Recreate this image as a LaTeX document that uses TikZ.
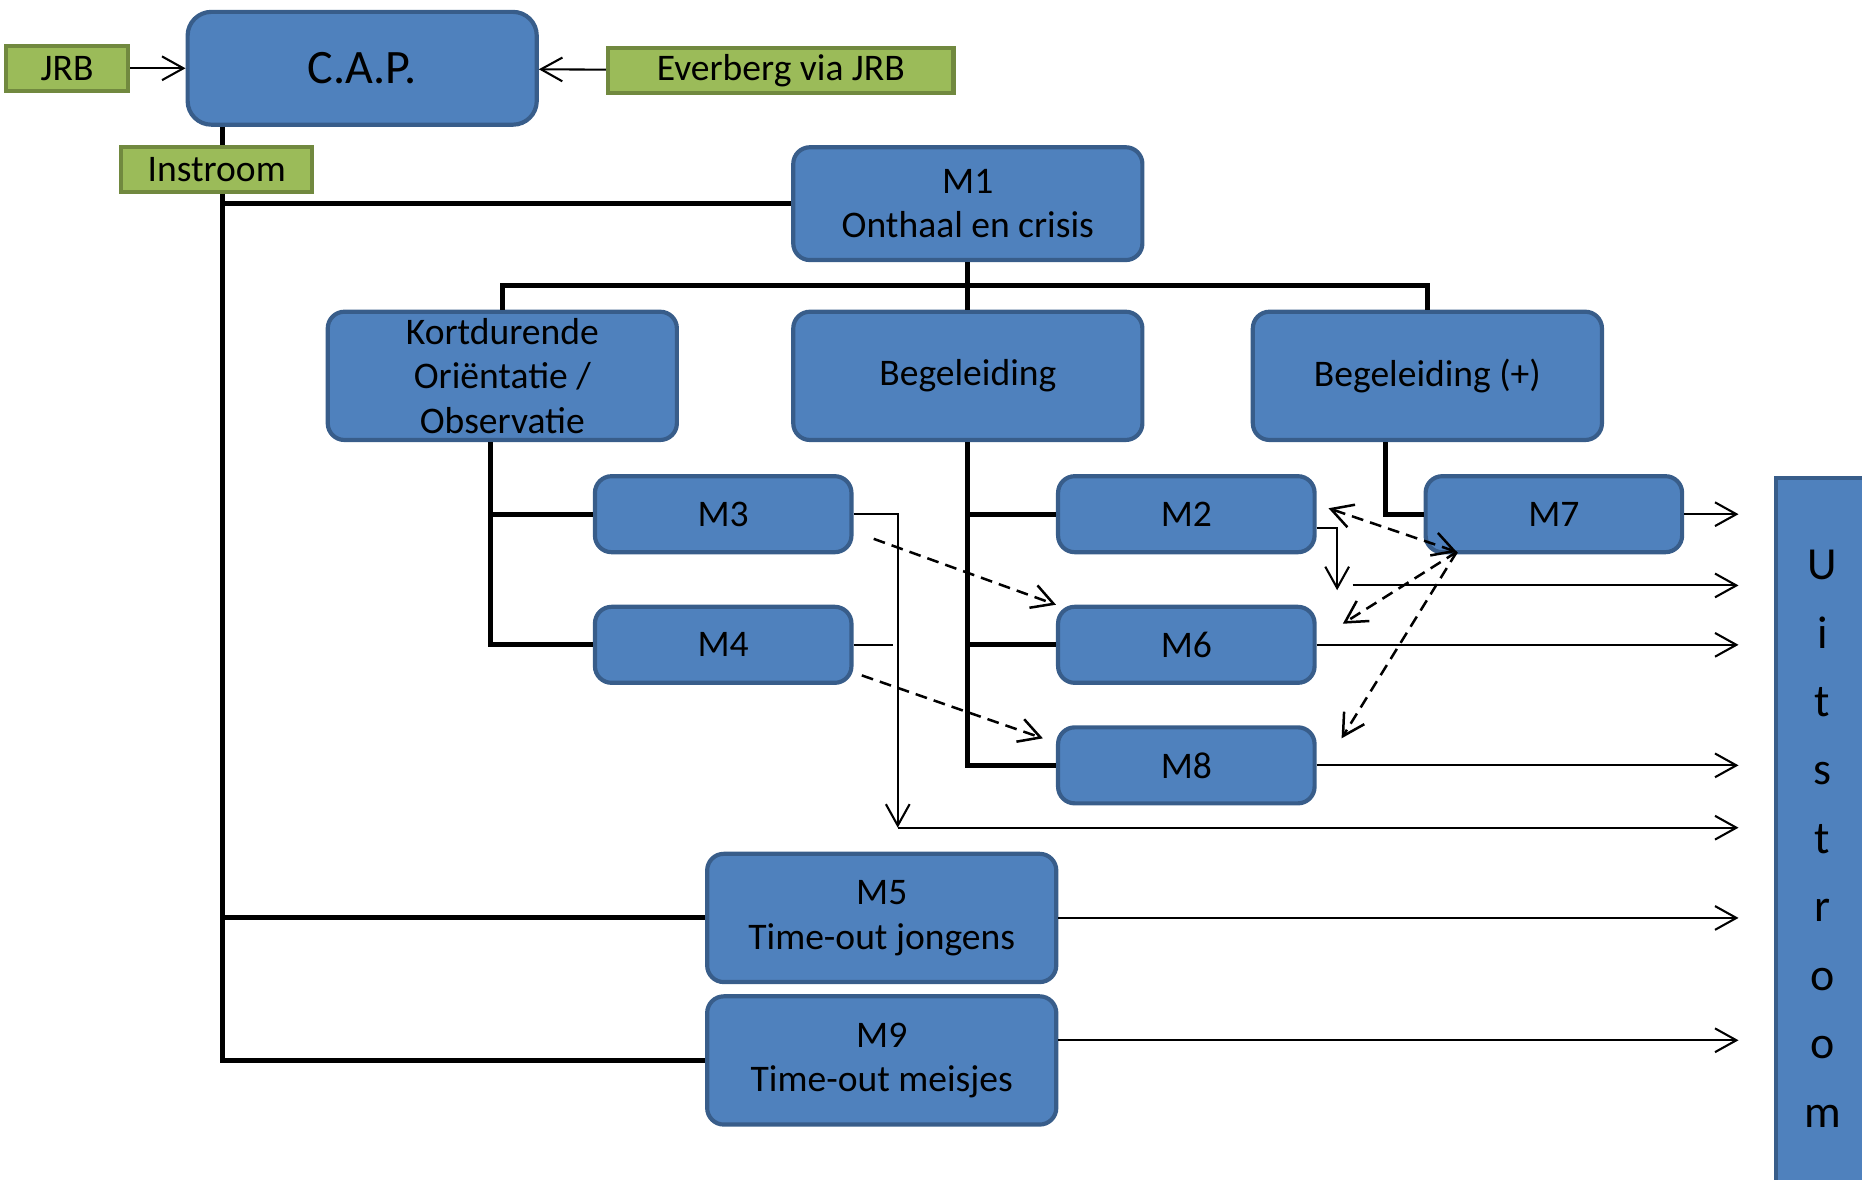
\documentclass[tikz,border=0pt]{standalone}
\usepackage{fontspec}
\setmainfont{Carlito}
\usetikzlibrary{shapes,arrows.meta,positioning,calc}

\definecolor{boxblue}{HTML}{4F81BD}
\definecolor{boxblueline}{HTML}{385D8A}
\definecolor{boxgreen}{HTML}{9BBB59}
\definecolor{boxgreenline}{HTML}{71893F}

\begin{document}
\begin{tikzpicture}[node distance=3cm, >={Straight Barb[length=1.8mm,width=2mm]}]
    \tikzstyle{module} = [rectangle, draw=boxblueline, line width=1pt, fill=boxblue, rounded corners=1.4mm, align=center, inner sep=0pt, font=\fontsize{9}{10.7}\selectfont]
    \tikzstyle{bigmodule} = [module, minimum width=2.94cm, minimum height=1.08cm]
    \tikzstyle{smallmodule} = [module, minimum width=2.16cm, minimum height=0.64cm]
    \tikzstyle{source} = [rectangle, draw=boxgreenline, line width=1pt, fill=boxgreen, inner sep=0pt, minimum height=0.38cm, font=\fontsize{9}{10.7}\selectfont]
    \tikzstyle{link} = [draw, line width=1.2pt]
    \tikzstyle{flow} = [draw, line width=0.5pt, ->]
    \tikzstyle{transfer} = [draw, line width=0.6pt, dash pattern=on 1mm off 0.6mm, ->]

    \useasboundingbox (0,0) rectangle (15.68,-9.93);

    % Intake
    \node[module, minimum width=2.94cm, minimum height=0.95cm, rounded corners=2mm, font=\fontsize{11.5}{13}\selectfont] (cap) at (3.05,-0.575) {C.A.P.};
    \node[source, minimum width=1.03cm, left of=cap, node distance=2.485cm] (jrb) {JRB};
    \node[source, minimum width=2.91cm, right of=cap, node distance=3.525cm, yshift=-0.2mm] (everberg) {Everberg via JRB};
    \node[source, minimum width=1.61cm] (instroom) at (1.825,-1.425) {Instroom};

    % Modules
    \node[bigmodule, minimum height=0.95cm] (m1) at (8.15,-1.715) {M1\\Onthaal en crisis};
    \node[bigmodule, below of=m1, node distance=1.45cm] (beg) {Begeleiding};
    \node[bigmodule, left of=beg, node distance=3.92cm] (kort) {Kortdurende\\Oriëntatie /\\Observatie};
    \node[bigmodule, right of=beg, node distance=3.87cm] (begplus) {Begeleiding (+)};
    \node[smallmodule] (m3) at (6.09,-4.33) {M3};
    \node[smallmodule, below of=m3, node distance=1.1cm] (m4) {M4};
    \node[smallmodule] (m2) at (9.99,-4.33) {M2};
    \node[smallmodule, below of=m2, node distance=1.1cm] (m6) {M6};
    \node[smallmodule, below of=m6, node distance=1.015cm] (m8) {M8};
    \node[smallmodule, right of=m2, node distance=3.095cm] (m7) {M7};
    \node[bigmodule] (m5) at (7.425,-7.73) {M5\\Time-out jongens};
    \node[bigmodule, below of=m5, node distance=1.2cm] (m9) {M9\\Time-out meisjes};

    % Outflow
    \node[module, rounded corners=0pt, anchor=north west, minimum width=0.78cm, minimum height=6.07cm, font=\fontsize{11}{16.4}\selectfont] (uit) at (14.94,-4.01) {U\\i\\t\\s\\t\\r\\o\\o\\m};

    % Input arrows
    \draw[flow] (jrb) -- (cap);
    \draw[flow] (everberg) -- (cap);

    % Tree
    \coordinate (trunk) at ($(cap.south)+(-1.18,0)$);
    \draw[link] (trunk) -- (trunk |- instroom.north);
    \draw[link] (trunk |- instroom.south) -- (trunk |- m9.west) -- (m9.west);
    \draw[link] (trunk |- m1.west) -- (m1.west);
    \draw[link] (trunk |- m5.west) -- (m5.west);
    \coordinate (split) at ($(m1.south)!0.5!(beg.north)$);
    \draw[link] (m1.south) -- (beg.north);
    \draw[link] (kort.north) |- (split) -| (begplus.north);
    \draw[link] ([xshift=-1mm]kort.south) |- (m4.west);
    \draw[link] ([xshift=-1mm]kort.south |- m3.west) -- (m3.west);
    \draw[link] (beg.south) |- (m8.west);
    \draw[link] (beg.south |- m2.west) -- (m2.west);
    \draw[link] (beg.south |- m6.west) -- (m6.west);
    \draw[link] ([xshift=-3.5mm]begplus.south) |- (m7.west);

    % Outflow arrows
    \coordinate (uitx) at (14.64,0);
    \coordinate (m3drop) at (7.56,-6.97);
    \coordinate (m2drop) at (11.26,-4.97);
    \coordinate (m2out) at (11.39,-4.93);
    \draw[flow] (m7.east) -- (m7.east -| uitx);
    \draw[flow] (m3.east) -| (m3drop);
    \draw[flow] (m3drop) -- (m3drop -| uitx);
    \draw[line width=0.5pt] (m4.east) -- ([xshift=-0.4mm]m4.east -| m3drop);
    \draw[flow] ([yshift=-1.2mm]m2.east) -| (m2drop);
    \draw[flow] (m2out) -- (m2out -| uitx);
    \draw[flow] (m6.east) -- (m6.east -| uitx);
    \draw[flow] (m8.east) -- (m8.east -| uitx);
    \draw[flow] (m5.east) -- (m5.east -| uitx);
    \draw[flow] ([yshift=1.7mm]m9.east) -- ([yshift=1.7mm]m9.east -| uitx);

    % Transfers
    \coordinate (m7c) at ($(m7.south west)+(0.28,0.02)$);
    \draw[transfer] ($(m3.south east)+(0.17,0.13)$) -- (m6.north west);
    \draw[transfer] ($(m4.south east)+(0.07,0.08)$) -- ($(m8.north west)+(-0.11,-0.11)$);
    \draw[transfer, <->] (m7c) -- ($(m2.east)+(0.10,0.05)$);
    \draw[transfer] (m7c) -- ($(m6.north east)+(0.22,-0.16)$);
    \draw[transfer] (m7c) -- ($(m8.north east)+(0.21,-0.11)$);
\end{tikzpicture}
\end{document}
